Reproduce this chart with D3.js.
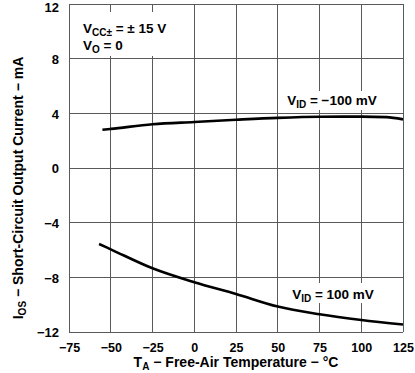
<!DOCTYPE html>
<html>
<head>
<meta charset="utf-8">
<script src="https://cdn.jsdelivr.net/npm/d3@7/dist/d3.min.js"></script>
<style>
  html, body { margin: 0; padding: 0; background: #fff; }
  svg { display: block; }
  text { font-family: "Liberation Sans", Arial, sans-serif; font-weight: bold; fill: #000; }
</style>
</head>
<body>
<svg id="chart" width="415" height="373"></svg>
<script>
// ---- data ----
const xTicks = [-75, -50, -25, 0, 25, 50, 75, 100, 125];
const yTicks = [-12, -8, -4, 0, 4, 8, 12];
const tempNeg = [-55, -50, -25, 0, 25, 50, 75, 100, 115, 125];
const iosNeg  = [2.8, 2.86, 3.2, 3.37, 3.53, 3.67, 3.75, 3.76, 3.72, 3.56];
const tempPos = [-57, -50, -25, 0, 25, 50, 75, 100, 125];
const iosPos  = [-5.56, -5.95, -7.34, -8.36, -9.22, -10.14, -10.7, -11.12, -11.45];

const svg = d3.select("#chart");
const L = 69, R = 403, T = 4, B = 332;
const x = d3.scaleLinear().domain([-75, 125]).range([L, R]);
const y = d3.scaleLinear().domain([-12, 12]).range([B, T]);

// grid
const grid = svg.append("g").attr("stroke", "#5a5a5a").attr("stroke-width", 1).attr("shape-rendering", "crispEdges");
grid.selectAll(".v").data(xTicks).join("line")
  .attr("x1", d => x(d)).attr("x2", d => x(d)).attr("y1", T).attr("y2", B);
grid.selectAll(".h").data(yTicks).join("line")
  .attr("x1", L).attr("x2", R).attr("y1", d => y(d)).attr("y2", d => y(d));

// white label boxes hiding grid
svg.append("rect").attr("x", L + 1).attr("y", 12).attr("width", 112).attr("height", 44).attr("fill", "#fff");
svg.append("rect").attr("x", 280).attr("y", 91).attr("width", 114).attr("height", 19).attr("fill", "#fff");
svg.append("rect").attr("x", 281).attr("y", 283).attr("width", 112).attr("height", 20).attr("fill", "#fff");

// curves
const line = d3.line().x(d => x(d[0])).y(d => y(d[1])).curve(d3.curveMonotoneX);
svg.append("path").datum(tempNeg.map((t, i) => [t, iosNeg[i]]))
  .attr("d", line).attr("fill", "none").attr("stroke", "#000").attr("stroke-width", 2.6);
svg.append("path").datum(tempPos.map((t, i) => [t, iosPos[i]]))
  .attr("d", line).attr("fill", "none").attr("stroke", "#000").attr("stroke-width", 2.6);

const fmt = d => d < 0 ? "\u2212" + Math.abs(d) : String(d);
const FONT = "'Liberation Sans', Arial, sans-serif";

// axes labels
const gx = svg.append("g").attr("transform", `translate(0,${B})`)
  .call(d3.axisBottom(x).tickValues(xTicks).tickSize(0).tickPadding(0).tickFormat(fmt));
gx.select(".domain").remove();
gx.selectAll("text").attr("dy", null).attr("y", 20).style("font-size", "12.5px")
  .style("font-family", FONT).style("font-weight", "bold");

const gy = svg.append("g").attr("transform", `translate(${L},0)`)
  .call(d3.axisLeft(y).tickValues(yTicks).tickSize(0).tickPadding(0).tickFormat(fmt));
gy.select(".domain").remove();
gy.selectAll("text").attr("x", -10).attr("dy", d => d === 12 ? "0.55em" : "0.38em").style("font-size", "13px")
  .style("font-family", FONT).style("font-weight", "bold");

// axis titles
const xt = svg.append("text").attr("x", 236).attr("y", 367).attr("text-anchor", "middle").style("font-size", "14px");
xt.append("tspan").text("T");
xt.append("tspan").attr("dy", 3).style("font-size", "10px").text("A");
xt.append("tspan").attr("dy", -3).text(" \u2212 Free-Air Temperature \u2212 \u00b0C");

const yt = svg.append("text").attr("transform", "translate(23,188) rotate(-90)").attr("text-anchor", "middle").style("font-size", "14px");
yt.append("tspan").text("I");
yt.append("tspan").attr("dy", 3).style("font-size", "10px").text("OS");
yt.append("tspan").attr("dy", -3).text(" \u2212 Short-Circuit Output Current \u2212 mA");

// annotations
function label(xp, yp, anchor, main, sub, rest) {
  const t = svg.append("text").attr("x", xp).attr("y", yp).attr("text-anchor", anchor).style("font-size", "13.5px");
  t.append("tspan").text(main);
  t.append("tspan").attr("dy", 3).style("font-size", "10px").text(sub);
  t.append("tspan").attr("dy", -3).text(rest);
  return t;
}
label(83, 32.5, "start", "V", "CC\u00b1", " = \u00b1 15 V");
label(83, 49.5, "start", "V", "O", " = 0");
label(332, 105, "middle", "V", "ID", " = \u2212100 mV");
label(333, 299, "middle", "V", "ID", " = 100 mV");
</script>
</body>
</html>
